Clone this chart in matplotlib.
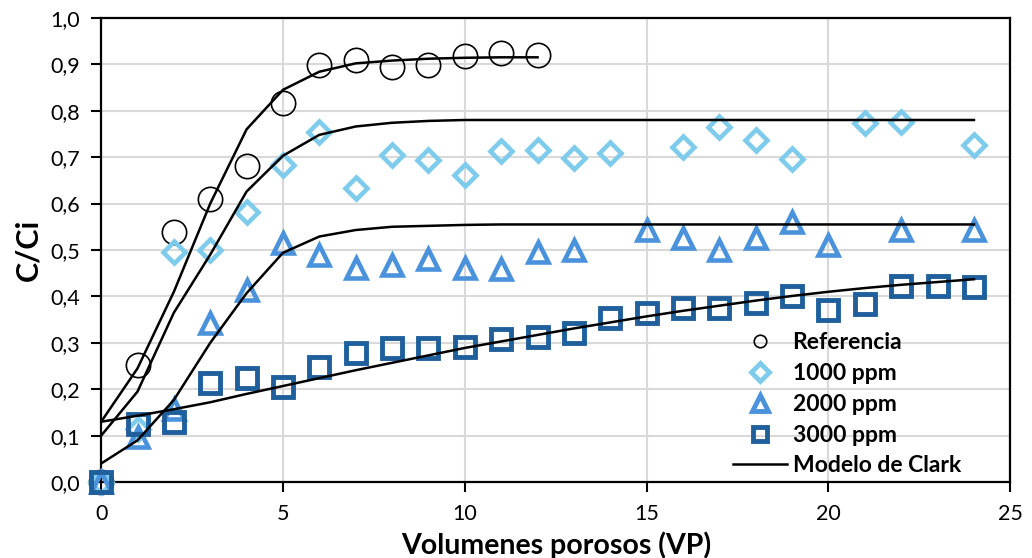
import numpy as np
import matplotlib
matplotlib.use("Agg")
import matplotlib.pyplot as plt
from matplotlib.ticker import FuncFormatter

plt.rcParams['font.family'] = ['Lato', 'DejaVu Sans']

# volumenes porosos inyectados
vp = [0, 1, 2, 3, 4, 5, 6, 7, 8, 9, 10, 11, 12, 13, 14, 15, 16, 17, 18, 19, 20, 21, 22, 23, 24]

# datos experimentales C/Ci
ref_x = [0, 1, 2, 3, 4, 5, 6, 7, 8, 9, 10, 11, 12]
ref_y = [0.0, 0.252, 0.539, 0.61, 0.681, 0.817, 0.899, 0.909, 0.895, 0.899, 0.918, 0.924, 0.92]

p1000_x = [0, 1, 2, 3, 4, 5, 6, 7, 8, 9, 10, 11, 12, 13, 14, 16, 17, 18, 19, 21, 22, 24]
p1000_y = [0.0, 0.115, 0.496, 0.499, 0.582, 0.683, 0.754, 0.634, 0.705, 0.694, 0.662, 0.714, 0.715,
           0.699, 0.708, 0.722, 0.765, 0.737, 0.696, 0.773, 0.775, 0.726]

p2000_x = [0, 1, 2, 3, 4, 5, 6, 7, 8, 9, 10, 11, 12, 13, 15, 16, 17, 18, 19, 20, 22, 24]
p2000_y = [0.0, 0.097, 0.158, 0.342, 0.413, 0.515, 0.49, 0.461, 0.468, 0.48, 0.461, 0.46, 0.496,
           0.5, 0.543, 0.525, 0.5, 0.525, 0.56, 0.51, 0.543, 0.543]

p3000_x = vp
p3000_y = [0.0, 0.125, 0.13, 0.213, 0.224, 0.205, 0.248, 0.278, 0.289, 0.289, 0.291, 0.308, 0.313,
           0.321, 0.353, 0.364, 0.375, 0.375, 0.385, 0.40, 0.37, 0.383, 0.422, 0.422, 0.42]

# modelo de Clark ajustado a cada serie
clark_ref = [0.13, 0.245, 0.41, 0.60, 0.76, 0.845, 0.884, 0.902, 0.908, 0.912, 0.914, 0.915, 0.915]
clark_1000 = [0.10, 0.195, 0.365, 0.49, 0.626, 0.703, 0.748, 0.766, 0.774, 0.778, 0.78, 0.78, 0.78,
              0.78, 0.78, 0.78, 0.78, 0.78, 0.78, 0.78, 0.78, 0.78, 0.78, 0.78, 0.78]
clark_2000 = [0.04, 0.09, 0.177, 0.30, 0.407, 0.494, 0.529, 0.543, 0.55, 0.552, 0.554, 0.555, 0.555,
              0.555, 0.555, 0.555, 0.555, 0.555, 0.555, 0.555, 0.555, 0.555, 0.555, 0.555, 0.555]
clark_3000 = [0.13, 0.143, 0.157, 0.172, 0.19, 0.207, 0.224, 0.241, 0.257, 0.273, 0.289, 0.303, 0.317,
              0.331, 0.344, 0.357, 0.369, 0.38, 0.391, 0.401, 0.41, 0.418, 0.425, 0.431, 0.437]

c1000 = '#7fcbec'
c2000 = '#4a93dc'
c3000 = '#1f5f9c'

fig = plt.figure(figsize=(10.32, 5.58), dpi=100)
ax = fig.add_axes([0.098, 0.136, 0.881, 0.832])

ax.plot(ref_x, ref_y, 'o', ms=17.5, mfc='none', mec='black', mew=1.2, label='Referencia',
        zorder=3, clip_on=False)
ax.plot(p1000_x, p1000_y, 'D', ms=11.5, mfc='none', mec=c1000, mew=3.3, label='1000 ppm',
        zorder=3, clip_on=False)
ax.plot(p2000_x, p2000_y, '^', ms=15, mfc='none', mec=c2000, mew=3.3, label='2000 ppm',
        zorder=3, clip_on=False)
ax.plot(p3000_x, p3000_y, 's', ms=14.5, mfc='none', mec=c3000, mew=3.5, label='3000 ppm',
        zorder=3, clip_on=False)

ax.plot(vp[:len(clark_ref)], clark_ref, '-', color='black', lw=1.8, label='Modelo de Clark', zorder=4)
ax.plot(vp, clark_1000, '-', color='black', lw=1.8, zorder=4)
ax.plot(vp, clark_2000, '-', color='black', lw=1.8, zorder=4)
ax.plot(vp, clark_3000, '-', color='black', lw=1.8, zorder=4)

ax.set_xlim(0, 25)
ax.set_ylim(0, 1.0)
ax.set_xticks(np.arange(0, 26, 5))
ax.set_yticks(np.arange(0, 1.01, 0.1))
ax.yaxis.set_major_formatter(FuncFormatter(lambda v, p: ('%.1f' % v).replace('.', ',')))
ax.grid(True, color='#d9d9d9', lw=1.5, zorder=0)
ax.set_axisbelow(True)
for s in ax.spines.values():
    s.set_linewidth(1.6)
    s.set_color('black')
ax.tick_params(axis='both', direction='out', length=7, width=1.5, labelsize=15.5, colors='black')
ax.tick_params(axis='x', pad=9)
ax.tick_params(axis='y', pad=8)

ax.set_xlabel('Volumenes porosos (VP)', fontsize=20.5, fontweight='bold', labelpad=5)
ax.set_ylabel('C/Ci', fontsize=22, fontweight='bold', labelpad=6)

leg = ax.legend(loc='upper left', bbox_to_anchor=(733 / 1032, 1 - 332 / 558),
                bbox_transform=fig.transFigure, frameon=False, borderpad=0, borderaxespad=0,
                handlelength=2.35, handletextpad=0.25, labelspacing=0.43,
                prop={'size': 16.5, 'weight': 'bold'})
# marcadores de la leyenda
hs = leg.legend_handles
hs[0].set_markersize(9)
hs[1].set_markersize(9.5)
hs[1].set_markeredgewidth(3.5)
hs[2].set_markersize(11.5)
hs[2].set_markeredgewidth(3.5)
hs[3].set_markersize(10.5)
hs[3].set_markeredgewidth(3.5)

fig.savefig('out.png', dpi=100)
